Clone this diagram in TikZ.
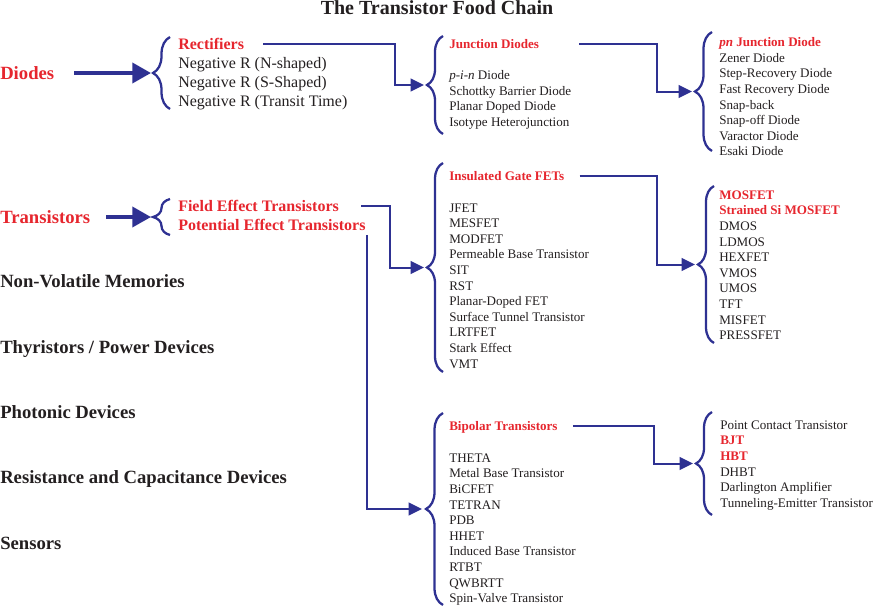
\documentclass[tikz,border=0pt]{standalone}
\usepackage{fontspec}
\setmainfont{Liberation Serif}
\usepackage{xcolor}
\usetikzlibrary{arrows.meta, positioning, calc, decorations.pathreplacing}

\definecolor{chainblue}{RGB}{46,49,146}
\definecolor{chainred}{RGB}{230,38,46}
\definecolor{chaintext}{RGB}{35,31,32}

\begin{document}
\begin{tikzpicture}[
    x=0.75pt, y=-0.75pt,
    every node/.style={inner sep=0pt, text=chaintext},
    family/.style={font=\fontsize{14}{16}\selectfont\bfseries, anchor=west, text depth=0pt},
    group/.style={font=\fontsize{12}{14.1}\selectfont\bfseries, anchor=west, text depth=0pt, text=chainred},
    grouplist/.style={font=\fontsize{12}{14.1}\selectfont, anchor=north west, align=left},
    kind/.style={font=\fontsize{9.8}{11.7}\selectfont\bfseries, anchor=west, text depth=0pt, text=chainred},
    kindlist/.style={font=\fontsize{9.8}{11.7}\selectfont, anchor=north west, align=left},
    brace/.style={decorate, decoration={brace, amplitude=#1}, draw=chainblue, line width=1.7pt},
    brace/.default=12pt,
    link/.style={draw=chainblue, line width=1.5pt, -{Triangle[length=10pt, width=9.5pt]}},
    bigarrow/.style={draw=chainblue, line width=2.8pt, -{Triangle[length=14pt, width=15pt]}}
]
\useasboundingbox (0,0) rectangle (877,607);

% Title
\node (title) [font=\fontsize{15}{18}\selectfont\bfseries, text depth=0pt] at (437,8) {The Transistor Food Chain};

% Device families
\node (diodes) [family, text=chainred] at (0,73) {Diodes};
\node (transistors) [family, text=chainred] at (0,217) {Transistors};
\node (memories) [family] at (0,281) {Non-Volatile Memories};
\node (thyristors) [family] at (0,347) {Thyristors / Power Devices};
\node (photonic) [family] at (0,412) {Photonic Devices};
\node (rc) [family] at (0,477) {Resistance and Capacitance Devices};
\node (sensors) [family] at (0,543) {Sensors};

% Diodes
\node (rect) [group] at (178,44) {Rectifiers};
\node (neglist) [grouplist] at (178,57.5) {Negative R (N-shaped)\\Negative R (S-Shaped)\\Negative R (Transit Time)};
\node (jd) [kind] at (449,44) {Junction Diodes};
\node (jdlist) [kindlist] at (449,70.3) {\textit{p-i-n} Diode\\Schottky Barrier Diode\\Planar Doped Diode\\Isotype Heterojunction};
\node (pnlist) [kindlist] at (719,37.3) {\textcolor{chainred}{\bfseries\textit{pn} Junction Diode}\\Zener Diode\\Step-Recovery Diode\\Fast Recovery Diode\\Snap-back\\Snap-off Diode\\Varactor Diode\\Esaki Diode};

% Transistors
\node (fet) [group] at (178,206) {Field Effect Transistors};
\node (pet) [group] at (178,225) {Potential Effect Transistors};
\node (ig) [kind] at (449,176) {Insulated Gate FETs};
\node (iglist) [kindlist] at (449,203.3) {JFET\\MESFET\\MODFET\\Permeable Base Transistor\\SIT\\RST\\Planar-Doped FET\\Surface Tunnel Transistor\\LRTFET\\Stark Effect\\VMT};
\node (moslist) [kindlist] at (719,190.3) {\textcolor{chainred}{\bfseries MOSFET}\\\textcolor{chainred}{\bfseries Strained Si MOSFET}\\DMOS\\LDMOS\\HEXFET\\VMOS\\UMOS\\TFT\\MISFET\\PRESSFET};
\node (bip) [kind] at (449,426) {Bipolar Transistors};
\node (biplist) [kindlist] at (449,453.3) {THETA\\Metal Base Transistor\\BiCFET\\TETRAN\\PDB\\HHET\\Induced Base Transistor\\RTBT\\QWBRTT\\Spin-Valve Transistor};
\node (bjtlist) [kindlist] at (720,420.3) {Point Contact Transistor\\\textcolor{chainred}{\bfseries BJT}\\\textcolor{chainred}{\bfseries HBT}\\DHBT\\Darlington Amplifier\\Tunneling-Emitter Transistor};

% Braces
\draw[brace=12.75pt] (170,109) -- (170,37);
\draw[brace=12.75pt] (170,235) -- (170,199);
\draw[brace=12pt] (443,134) -- (443,36);
\draw[brace=12.75pt] (712,151) -- (712,32);
\draw[brace=12pt] (443,372) -- (443,163);
\draw[brace=12pt] (714,343) -- (714,186);
\draw[brace=12.75pt] (443,605) -- (443,413);
\draw[brace=12pt] (712,515) -- (712,412);

% Brace tips
\coordinate (diodesin) at (151,73);
\coordinate (transin) at (151,217);
\coordinate (jdin) at (424,85);
\coordinate (pnin) at (692,91.5);
\coordinate (igin) at (424,267.5);
\coordinate (mosin) at (695,264.5);
\coordinate (bipin) at (422,509);
\coordinate (bjtin) at (693,463.5);

% Links
\draw[bigarrow] ($(diodes.east)+(20,0)$) -- (diodesin);
\draw[bigarrow] ($(transistors.east)+(16,0)$) -- (transin);
\draw[link] ($(rect.east)+(19,0)$) -| ($(jdin)+(-29,0)$) -- (jdin);
\draw[link] ($(jd.east)+(40,0)$) -| ($(pnin)+(-35,0)$) -- (pnin);
\draw[link] ($(fet.east)+(22,0)$) -| ($(igin)+(-34,0)$) -- (igin);
\draw[link] ($(pet.south east)+(1,4)$) |- (bipin);
\draw[link] ($(ig.east)+(15,0)$) -| ($(mosin)+(-38,0)$) -- (mosin);
\draw[link] ($(bip.east)+(15,0)$) -| ($(bjtin)+(-39,0)$) -- (bjtin);

\end{tikzpicture}
\end{document}
